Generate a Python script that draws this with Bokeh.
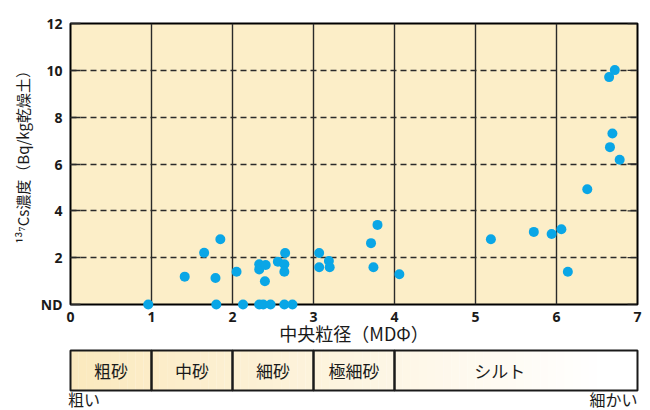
import math
from bokeh.plotting import figure
from bokeh.models import Range1d, FixedTicker
from bokeh.embed import file_html
from bokeh.resources import INLINE
from bokeh.core.properties import value

# Median grain size (MD phi) and Cs-137 concentration (Bq/kg dry soil); 0 = not detected
md_phi = [0.96, 1.41, 1.65, 1.85, 1.79, 1.80, 2.05, 2.13, 2.33, 2.33,
          2.41, 2.40, 2.33, 2.38, 2.47, 2.56, 2.65, 2.64, 2.64, 2.64,
          2.74, 3.07, 3.07, 3.19, 3.20, 3.79, 3.71, 3.74, 4.06, 5.19,
          5.72, 5.94, 6.06, 6.14, 6.38, 6.78, 6.66, 6.69, 6.65, 6.72]
cs137 = [0.00, 1.19, 2.21, 2.79, 1.13, 0.00, 1.40, 0.00, 1.72, 1.50,
         1.69, 0.99, 0.00, 0.00, 0.00, 1.83, 2.20, 1.72, 1.40, 0.00,
         0.00, 2.20, 1.59, 1.86, 1.59, 3.40, 2.62, 1.59, 1.29, 2.79,
         3.10, 3.01, 3.21, 1.40, 4.92, 6.18, 6.72, 7.30, 9.71, 10.01]

x_ticks = [0, 1, 2, 3, 4, 5, 6, 7]
y_ticks = [0, 2, 4, 6, 8, 10, 12]
y_tick_labels = {0: "ND"}
y_title = "¹³⁷Cs濃度（Bq/kg乾燥土）"
x_title = "中央粒径（MDΦ）"

# Grain-size classes along the phi scale
size_classes = ["粗砂", "中砂", "細砂", "極細砂", "シルト"]
class_edges = [0, 1, 2, 3, 4, 7]
class_label_x = [0.5, 1.5, 2.5, 3.5, 5.3]
coarse_label = "粗い"
fine_label = "細かい"

JP = "Noto Sans CJK JP"
NUM = "Noto Sans"
INK = "#1a1a1a"
LINE = "#2a2a2a"

p = figure(width=650, height=410,
           x_range=Range1d(0, 7), y_range=Range1d(0, 12),
           output_backend="svg", toolbar_location=None,
           min_border_left=70, min_border_right=13,
           min_border_top=23, min_border_bottom=106)
p.background_fill_color = "#FCEEC8"
p.border_fill_color = "white"
p.outline_line_color = "black"
p.outline_line_width = 2

# vertical solid lines at integer phi, horizontal dashed lines
p.xgrid.ticker = FixedTicker(ticks=[1, 2, 3, 4, 5, 6])
p.xgrid.grid_line_color = LINE
p.xgrid.grid_line_width = 1.4
p.ygrid.ticker = FixedTicker(ticks=[2, 4, 6, 8, 10])
p.ygrid.grid_line_color = LINE
p.ygrid.grid_line_width = 1.4
p.ygrid.grid_line_dash = "6 4"

xa = p.xaxis[0]
xa.ticker = FixedTicker(ticks=x_ticks)
xa.axis_line_color = None
xa.major_tick_line_color = None
xa.minor_tick_line_color = None
xa.major_label_text_font = NUM
xa.major_label_text_font_size = "14px"
xa.major_label_text_font_style = "bold"
xa.major_label_text_color = INK
xa.major_label_standoff = 1
xa.axis_label = x_title
xa.axis_label_text_font = JP
xa.axis_label_text_font_size = "18px"
xa.axis_label_text_font_style = "normal"
xa.axis_label_text_color = INK
xa.axis_label_standoff = -5

ya = p.yaxis[0]
ya.ticker = FixedTicker(ticks=y_ticks)
ya.major_label_overrides = y_tick_labels
ya.axis_line_color = None
ya.major_tick_in = 10
ya.major_tick_out = 0
ya.major_tick_line_color = LINE
ya.major_tick_line_width = 1.4
ya.minor_tick_line_color = None
ya.major_label_text_font = NUM
ya.major_label_text_font_size = "14px"
ya.major_label_text_font_style = "bold"
ya.major_label_text_color = INK
ya.major_label_standoff = 8

# rotated y title beside the tick labels (overlay level, outside the frame)
p.text(x=[-0.593], y=[6.45], text=[y_title], angle=math.pi / 2,
       text_align="center", text_baseline="middle",
       text_font=value(JP), text_font_size="15px", text_color=INK,
       level="overlay")

# short inward ticks on the right edge at the same y values
p.segment(x0=[7] * len(y_ticks), x1=[6.877] * len(y_ticks),
          y0=y_ticks, y1=y_ticks, line_color=LINE, line_width=1.4)

# data points; drawn above the frame clip so ND points sit on the bottom edge
p.scatter(md_phi, cs137, size=10, fill_color="#0AA6E6", line_color=None,
          level="overlay")

# grain-size band under the x axis, shaded from tan to white
band_top, band_bottom = -1.96, -3.67
n_steps = 70
c0, c1 = (251, 233, 190), (255, 255, 255)
lefts, rights, colors = [], [], []
for i in range(n_steps):
    a = 7 * i / n_steps
    b = 7 * (i + 1) / n_steps
    t = min(1.0, (a + b) / 2 / 6.6)
    rgb = tuple(int(round(c0[k] + (c1[k] - c0[k]) * t)) for k in range(3))
    lefts.append(a)
    rights.append(b + 0.002)
    colors.append("#%02x%02x%02x" % rgb)
p.quad(left=lefts, right=rights, top=band_top, bottom=band_bottom,
       fill_color=colors, line_color=None, level="overlay")
p.quad(left=class_edges[:-1], right=class_edges[1:], top=band_top,
       bottom=band_bottom, fill_color=None, line_color="#1a1a1a",
       line_width=2, level="overlay")
p.text(x=class_label_x, y=(band_top + band_bottom) / 2, text=size_classes,
       text_align="center", text_baseline="middle",
       text_font=value(JP), text_font_size="17px", text_color=INK,
       level="overlay")
p.text(x=[-0.03], y=[-4.03], text=[coarse_label], text_align="left",
       text_baseline="middle", text_font=value(JP), text_font_size="16px",
       text_color=INK, level="overlay")
p.text(x=[7], y=[-4.03], text=[fine_label], text_align="right",
       text_baseline="middle", text_font=value(JP), text_font_size="16px",
       text_color=INK, level="overlay")

open("out.html", "w").write(file_html(p, INLINE))
